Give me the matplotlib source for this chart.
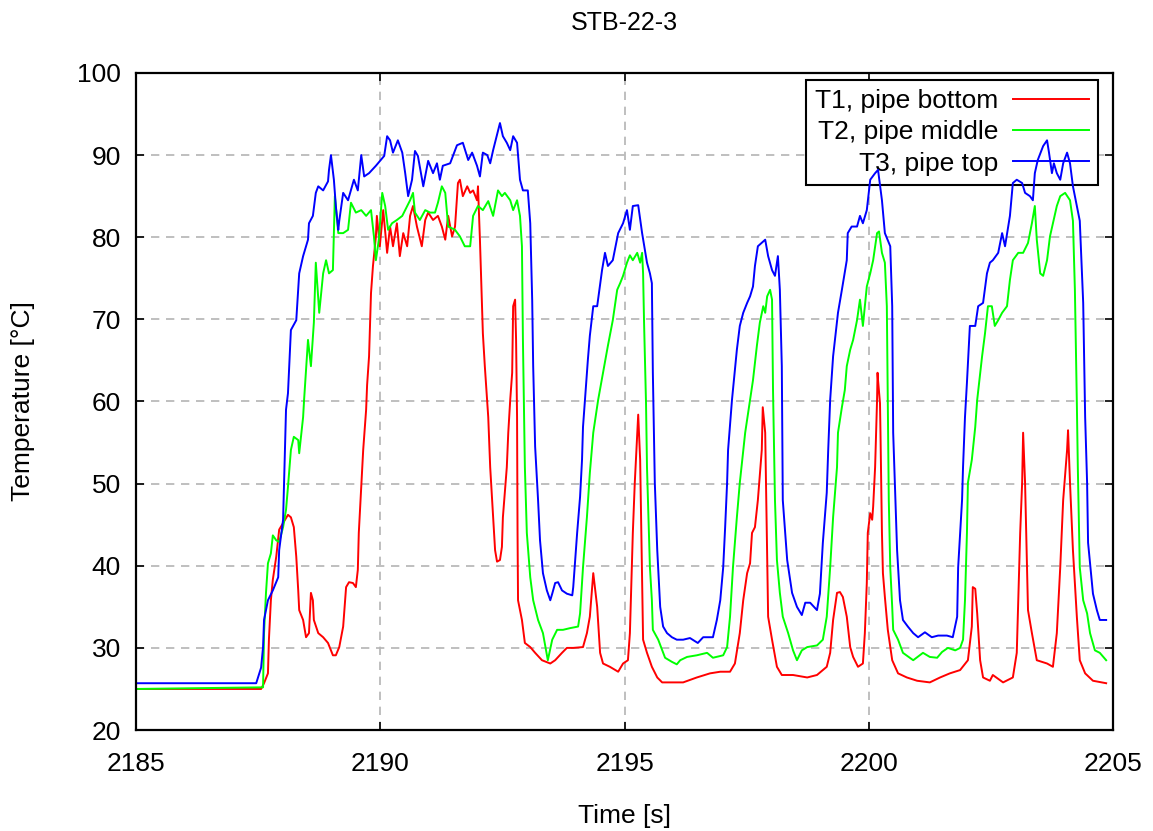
import matplotlib
matplotlib.use("Agg")
import matplotlib.pyplot as plt

plt.rcParams['font.family'] = ['Liberation Sans', 'DejaVu Sans']

title = "STB-22-3"
xlabel = "Time [s]"
ylabel = "Temperature [°C]"
labels = ["T1, pipe bottom", "T2, pipe middle", "T3, pipe top"]
xticks = [2185, 2190, 2195, 2200, 2205]
yticks = [20, 30, 40, 50, 60, 70, 80, 90, 100]

# T3, pipe top
t3_time = [2185.00, 2187.46, 2187.56, 2187.60, 2187.62, 2187.70, 2187.80, 2187.91, 2187.93, 2188.01,
           2188.03, 2188.07, 2188.11, 2188.17, 2188.28, 2188.32, 2188.34, 2188.42, 2188.52, 2188.54,
           2188.62, 2188.68, 2188.73, 2188.83, 2188.93, 2188.95, 2188.99, 2189.05, 2189.09, 2189.14,
           2189.16, 2189.24, 2189.34, 2189.46, 2189.54, 2189.61, 2189.67, 2189.77, 2189.91, 2190.08,
           2190.14, 2190.20, 2190.26, 2190.36, 2190.45, 2190.51, 2190.57, 2190.65, 2190.71, 2190.77,
           2190.88, 2190.98, 2191.08, 2191.16, 2191.22, 2191.28, 2191.43, 2191.57, 2191.69, 2191.80,
           2191.88, 2191.98, 2192.04, 2192.10, 2192.19, 2192.25, 2192.31, 2192.45, 2192.51, 2192.59,
           2192.66, 2192.72, 2192.80, 2192.86, 2192.92, 2193.02, 2193.07, 2193.11, 2193.13, 2193.17,
           2193.23, 2193.27, 2193.33, 2193.41, 2193.48, 2193.52, 2193.58, 2193.64, 2193.72, 2193.82,
           2193.93, 2193.95, 2194.03, 2194.09, 2194.13, 2194.15, 2194.19, 2194.25, 2194.29, 2194.36,
           2194.44, 2194.54, 2194.60, 2194.66, 2194.76, 2194.87, 2194.97, 2195.05, 2195.11, 2195.17,
           2195.28, 2195.36, 2195.46, 2195.52, 2195.56, 2195.58, 2195.62, 2195.67, 2195.73, 2195.79,
           2195.87, 2195.97, 2196.07, 2196.20, 2196.34, 2196.50, 2196.61, 2196.81, 2196.89, 2196.96,
           2197.02, 2197.06, 2197.10, 2197.12, 2197.20, 2197.30, 2197.36, 2197.43, 2197.51, 2197.57,
           2197.63, 2197.67, 2197.73, 2197.88, 2197.94, 2198.02, 2198.08, 2198.14, 2198.18, 2198.22,
           2198.24, 2198.33, 2198.43, 2198.53, 2198.63, 2198.70, 2198.80, 2198.94, 2199.00, 2199.06,
           2199.14, 2199.17, 2199.21, 2199.27, 2199.37, 2199.45, 2199.55, 2199.57, 2199.65, 2199.76,
           2199.82, 2199.88, 2199.96, 2200.03, 2200.13, 2200.19, 2200.27, 2200.33, 2200.44, 2200.48,
           2200.50, 2200.58, 2200.64, 2200.70, 2200.80, 2200.91, 2201.01, 2201.15, 2201.29, 2201.42,
           2201.60, 2201.72, 2201.81, 2201.83, 2201.91, 2201.93, 2201.97, 2202.01, 2202.07, 2202.18,
           2202.24, 2202.34, 2202.42, 2202.48, 2202.54, 2202.65, 2202.73, 2202.79, 2202.89, 2202.95,
           2203.03, 2203.14, 2203.20, 2203.30, 2203.36, 2203.40, 2203.46, 2203.57, 2203.65, 2203.69,
           2203.75, 2203.79, 2203.85, 2203.92, 2203.98, 2204.06, 2204.12, 2204.18, 2204.26, 2204.32,
           2204.39, 2204.43, 2204.47, 2204.49, 2204.59, 2204.67, 2204.73, 2204.86]
t3_temp = [25.7, 25.7, 27.6, 30.1, 33.4, 35.8, 37.0, 38.6, 41.9, 45.6,
           50.1, 59.0, 61.0, 68.7, 69.9, 73.6, 75.6, 77.7, 79.7, 81.7,
           82.6, 85.4, 86.2, 85.7, 86.8, 88.2, 90.0, 87.0, 83.8, 80.9,
           82.0, 85.4, 84.5, 87.0, 85.7, 90.0, 87.4, 87.8, 88.7, 89.9,
           92.3, 91.8, 90.3, 91.8, 90.3, 87.8, 85.0, 87.0, 90.5, 89.9,
           86.2, 89.3, 87.8, 89.0, 87.0, 88.7, 89.0, 91.2, 91.5, 89.4,
           90.3, 88.7, 87.4, 90.3, 90.0, 89.0, 90.6, 93.9, 92.3, 91.5,
           90.6, 92.3, 91.5, 87.0, 85.7, 85.7, 81.7, 72.3, 64.3, 54.5,
           48.0, 43.1, 39.1, 37.0, 35.8, 36.6, 37.9, 38.0, 37.0, 36.6,
           36.4, 37.4, 44.0, 48.4, 52.9, 56.9, 60.2, 65.1, 68.0, 71.6,
           71.6, 76.0, 78.1, 76.5, 77.2, 80.5, 81.7, 83.3, 80.9, 83.8,
           83.9, 80.5, 76.9, 75.6, 74.4, 63.5, 50.1, 41.9, 35.0, 32.6,
           31.8, 31.3, 31.0, 31.0, 31.2, 30.6, 31.3, 31.3, 33.4, 35.8,
           39.8, 44.7, 50.1, 54.1, 60.2, 66.3, 69.2, 70.8, 72.0, 72.8,
           74.0, 76.5, 78.9, 79.7, 77.7, 76.0, 75.3, 77.7, 73.6, 64.3,
           48.0, 40.7, 36.7, 35.0, 34.0, 35.5, 35.5, 34.6, 36.6, 42.8,
           48.9, 54.1, 60.2, 65.5, 70.8, 73.6, 77.2, 80.5, 81.3, 81.3,
           82.6, 81.7, 83.3, 87.0, 87.8, 88.2, 84.5, 80.5, 78.9, 71.6,
           56.2, 41.9, 35.8, 33.4, 32.6, 31.8, 31.3, 31.9, 31.3, 31.5,
           31.5, 31.3, 33.8, 39.8, 48.0, 52.0, 58.1, 62.3, 69.2, 69.2,
           71.6, 72.0, 75.6, 76.9, 77.2, 78.1, 80.5, 78.9, 82.6, 86.6,
           87.0, 86.6, 85.4, 85.0, 84.5, 87.8, 89.4, 91.1, 91.8, 90.3,
           87.8, 89.0, 87.8, 87.0, 89.0, 90.3, 89.0, 86.2, 83.8, 82.0,
           72.0, 58.1, 50.1, 42.8, 36.6, 34.6, 33.4, 33.4]

# T2, pipe middle
t2_time = [2185.00, 2187.60, 2187.62, 2187.66, 2187.70, 2187.76, 2187.80, 2187.87, 2187.93, 2188.01,
           2188.07, 2188.11, 2188.17, 2188.23, 2188.32, 2188.34, 2188.42, 2188.44, 2188.52, 2188.58,
           2188.64, 2188.68, 2188.75, 2188.83, 2188.89, 2188.95, 2189.03, 2189.07, 2189.14, 2189.24,
           2189.34, 2189.40, 2189.50, 2189.61, 2189.71, 2189.81, 2189.87, 2189.91, 2189.97, 2190.04,
           2190.10, 2190.16, 2190.24, 2190.34, 2190.45, 2190.55, 2190.61, 2190.67, 2190.71, 2190.81,
           2190.92, 2191.02, 2191.12, 2191.18, 2191.26, 2191.33, 2191.39, 2191.53, 2191.63, 2191.73,
           2191.84, 2191.90, 2192.00, 2192.10, 2192.21, 2192.31, 2192.41, 2192.49, 2192.55, 2192.66,
           2192.72, 2192.80, 2192.86, 2192.90, 2192.92, 2192.96, 2193.00, 2193.07, 2193.13, 2193.23,
           2193.33, 2193.43, 2193.52, 2193.62, 2193.74, 2193.88, 2194.05, 2194.09, 2194.15, 2194.23,
           2194.29, 2194.36, 2194.46, 2194.56, 2194.66, 2194.76, 2194.85, 2194.91, 2194.97, 2195.05,
           2195.11, 2195.17, 2195.26, 2195.32, 2195.36, 2195.38, 2195.40, 2195.44, 2195.46, 2195.52,
           2195.56, 2195.58, 2195.69, 2195.83, 2195.97, 2196.07, 2196.14, 2196.28, 2196.48, 2196.69,
           2196.81, 2197.02, 2197.10, 2197.16, 2197.22, 2197.30, 2197.36, 2197.47, 2197.57, 2197.63,
           2197.71, 2197.77, 2197.84, 2197.88, 2197.92, 2197.98, 2198.02, 2198.04, 2198.08, 2198.12,
           2198.18, 2198.24, 2198.35, 2198.45, 2198.53, 2198.63, 2198.74, 2198.94, 2199.06, 2199.14,
           2199.21, 2199.27, 2199.35, 2199.37, 2199.45, 2199.51, 2199.55, 2199.62, 2199.68, 2199.76,
           2199.82, 2199.88, 2199.96, 2200.03, 2200.09, 2200.17, 2200.21, 2200.27, 2200.33, 2200.37,
           2200.39, 2200.41, 2200.44, 2200.48, 2200.50, 2200.60, 2200.70, 2200.91, 2201.11, 2201.25,
           2201.40, 2201.50, 2201.62, 2201.77, 2201.87, 2201.93, 2201.97, 2202.01, 2202.03, 2202.11,
           2202.18, 2202.22, 2202.32, 2202.38, 2202.44, 2202.52, 2202.58, 2202.65, 2202.73, 2202.83,
           2202.89, 2202.95, 2203.06, 2203.16, 2203.26, 2203.34, 2203.40, 2203.44, 2203.51, 2203.57,
           2203.65, 2203.71, 2203.77, 2203.85, 2203.92, 2204.02, 2204.12, 2204.18, 2204.22, 2204.26,
           2204.28, 2204.32, 2204.39, 2204.47, 2204.53, 2204.63, 2204.73, 2204.86]
t2_temp = [25.0, 25.2, 31.8, 36.7, 40.3, 41.5, 43.7, 43.1, 42.9, 44.7,
           46.8, 49.6, 54.1, 55.7, 55.3, 53.7, 58.1, 60.2, 67.5, 64.3,
           69.6, 76.9, 70.8, 75.6, 77.2, 75.6, 76.0, 85.0, 80.5, 80.5,
           80.9, 84.2, 83.0, 83.3, 82.6, 83.3, 80.1, 77.2, 79.7, 85.4,
           83.8, 80.9, 81.7, 82.1, 82.6, 83.8, 84.5, 85.4, 83.0, 82.1,
           83.3, 83.0, 83.0, 84.2, 86.2, 85.4, 81.3, 80.9, 80.1, 78.9,
           78.9, 82.6, 83.8, 83.3, 84.4, 82.6, 85.7, 85.0, 85.4, 84.5,
           83.3, 84.5, 82.6, 78.9, 67.5, 52.0, 44.0, 38.6, 35.8, 33.4,
           31.8, 28.5, 31.0, 32.2, 32.2, 32.4, 32.6, 34.2, 39.8, 45.9,
           51.3, 56.2, 60.2, 63.5, 66.8, 69.9, 73.6, 74.4, 75.3, 76.9,
           77.8, 77.2, 78.1, 76.9, 78.1, 75.6, 69.6, 59.8, 52.0, 39.8,
           35.8, 32.2, 31.0, 28.8, 28.3, 28.0, 28.5, 28.9, 29.1, 29.4,
           28.8, 29.1, 30.1, 33.8, 39.8, 45.9, 50.1, 56.2, 60.2, 62.6,
           66.8, 69.6, 71.6, 70.8, 72.8, 73.6, 72.4, 61.4, 48.0, 40.7,
           36.7, 33.8, 31.8, 29.7, 28.5, 29.7, 30.1, 30.3, 31.0, 33.8,
           39.8, 45.9, 52.0, 56.2, 59.3, 61.4, 64.3, 66.3, 67.5, 69.9,
           72.4, 69.2, 74.0, 75.6, 77.2, 80.5, 80.7, 78.1, 76.9, 71.6,
           59.8, 48.0, 39.8, 35.0, 32.2, 31.0, 29.4, 28.5, 29.4, 28.9,
           28.8, 29.5, 30.0, 29.7, 30.0, 31.0, 35.8, 44.0, 50.1, 52.9,
           56.9, 60.2, 65.5, 68.3, 71.6, 71.6, 69.2, 69.9, 70.8, 71.6,
           74.8, 77.2, 78.1, 78.1, 79.3, 81.7, 83.8, 79.7, 75.6, 75.3,
           77.2, 80.1, 81.7, 83.8, 85.0, 85.4, 84.5, 82.0, 73.6, 59.8,
           52.0, 39.8, 35.8, 34.2, 31.8, 29.7, 29.4, 28.5]

# T1, pipe bottom
t1_time = [2185.00, 2187.56, 2187.62, 2187.70, 2187.72, 2187.76, 2187.80, 2187.87, 2187.93, 2188.01,
           2188.11, 2188.17, 2188.23, 2188.28, 2188.32, 2188.34, 2188.42, 2188.48, 2188.54, 2188.58,
           2188.62, 2188.64, 2188.73, 2188.83, 2188.93, 2189.03, 2189.09, 2189.16, 2189.24, 2189.30,
           2189.36, 2189.44, 2189.50, 2189.54, 2189.56, 2189.65, 2189.71, 2189.73, 2189.77, 2189.81,
           2189.85, 2189.91, 2189.93, 2189.99, 2190.06, 2190.14, 2190.20, 2190.26, 2190.34, 2190.40,
           2190.47, 2190.55, 2190.61, 2190.67, 2190.75, 2190.85, 2190.92, 2190.98, 2191.08, 2191.18,
           2191.26, 2191.33, 2191.39, 2191.47, 2191.53, 2191.59, 2191.63, 2191.69, 2191.78, 2191.84,
           2191.90, 2191.98, 2192.00, 2192.04, 2192.10, 2192.14, 2192.21, 2192.25, 2192.31, 2192.35,
           2192.39, 2192.45, 2192.49, 2192.51, 2192.59, 2192.62, 2192.66, 2192.70, 2192.72, 2192.76,
           2192.78, 2192.80, 2192.81, 2192.82, 2192.90, 2192.96, 2193.07, 2193.17, 2193.31, 2193.48,
           2193.58, 2193.72, 2193.82, 2193.95, 2194.15, 2194.23, 2194.29, 2194.36, 2194.44, 2194.50,
           2194.56, 2194.70, 2194.87, 2194.97, 2195.07, 2195.11, 2195.15, 2195.17, 2195.21, 2195.26,
           2195.28, 2195.32, 2195.36, 2195.38, 2195.46, 2195.56, 2195.67, 2195.77, 2195.93, 2196.20,
           2196.48, 2196.75, 2196.96, 2197.16, 2197.26, 2197.36, 2197.43, 2197.51, 2197.57, 2197.61,
           2197.67, 2197.73, 2197.81, 2197.83, 2197.88, 2197.92, 2197.94, 2198.02, 2198.12, 2198.22,
           2198.45, 2198.74, 2198.94, 2199.14, 2199.21, 2199.27, 2199.35, 2199.41, 2199.47, 2199.55,
           2199.62, 2199.68, 2199.78, 2199.88, 2199.92, 2199.96, 2199.98, 2200.03, 2200.07, 2200.09,
           2200.13, 2200.17, 2200.18, 2200.19, 2200.23, 2200.24, 2200.27, 2200.29, 2200.33, 2200.39,
           2200.48, 2200.60, 2200.78, 2200.99, 2201.25, 2201.46, 2201.66, 2201.87, 2202.03, 2202.11,
           2202.13, 2202.18, 2202.22, 2202.28, 2202.34, 2202.48, 2202.54, 2202.75, 2202.95, 2203.03,
           2203.06, 2203.10, 2203.14, 2203.16, 2203.20, 2203.24, 2203.26, 2203.34, 2203.44, 2203.65,
           2203.77, 2203.85, 2203.92, 2203.98, 2204.06, 2204.08, 2204.12, 2204.18, 2204.26, 2204.32,
           2204.43, 2204.59, 2204.86]
t1_temp = [25.0, 25.0, 25.7, 26.9, 31.0, 35.8, 38.3, 41.1, 44.4, 45.2,
           46.2, 45.9, 44.7, 41.1, 37.0, 34.6, 33.4, 31.3, 31.8, 36.7,
           35.8, 33.4, 31.8, 31.3, 30.6, 29.1, 29.1, 30.1, 32.6, 37.4,
           38.0, 37.9, 37.4, 39.5, 44.0, 54.1, 59.0, 62.0, 65.5, 73.2,
           76.5, 80.1, 82.6, 78.9, 83.3, 78.1, 81.3, 78.9, 81.7, 77.7,
           80.5, 78.9, 82.6, 83.8, 81.3, 78.9, 82.1, 83.0, 82.1, 82.6,
           81.3, 79.7, 82.6, 80.1, 81.3, 86.6, 87.0, 85.0, 86.2, 85.4,
           85.7, 84.5, 86.2, 79.7, 68.3, 64.3, 58.1, 52.0, 45.9, 41.9,
           40.5, 40.7, 42.3, 45.9, 52.0, 56.2, 60.2, 63.5, 71.6, 72.4,
           67.5, 58.1, 44.0, 35.8, 33.4, 30.6, 30.1, 29.4, 28.5, 28.1,
           28.5, 29.4, 30.0, 30.0, 30.1, 31.8, 33.8, 39.1, 35.0, 29.4,
           28.1, 27.7, 27.1, 28.1, 28.5, 31.8, 39.8, 44.0, 50.1, 56.2,
           58.4, 52.9, 37.9, 31.0, 29.4, 27.7, 26.4, 25.8, 25.8, 25.8,
           26.4, 26.9, 27.1, 27.1, 28.1, 31.8, 35.8, 39.1, 40.3, 44.0,
           44.7, 48.0, 54.1, 59.3, 56.2, 40.7, 33.8, 31.0, 27.7, 26.7,
           26.7, 26.4, 26.7, 27.7, 29.4, 33.4, 36.7, 36.8, 36.2, 33.8,
           30.1, 28.9, 27.7, 28.1, 31.8, 37.9, 44.0, 46.4, 45.6, 47.2,
           52.0, 60.2, 63.5, 62.6, 59.8, 56.2, 44.0, 39.1, 36.2, 32.2,
           28.5, 26.9, 26.4, 26.0, 25.8, 26.4, 26.9, 27.3, 28.5, 32.6,
           37.4, 37.2, 34.2, 28.5, 26.4, 26.0, 26.7, 25.8, 26.4, 29.4,
           35.8, 44.0, 50.1, 56.2, 50.1, 39.8, 34.6, 31.8, 28.5, 28.1,
           27.7, 31.8, 39.8, 48.0, 54.1, 56.5, 50.1, 41.9, 33.8, 28.5,
           26.9, 26.0, 25.7]

fig = plt.figure(figsize=(11.53, 8.31), dpi=100)
ax = fig.add_axes([0.118, 0.1215, 0.8473, 0.7907])

l1, = ax.plot(t1_time, t1_temp, color='#ff0000', lw=1.4, zorder=3)
l2, = ax.plot(t2_time, t2_temp, color='#00ff00', lw=1.4, zorder=3)
l3, = ax.plot(t3_time, t3_temp, color='#0000ff', lw=1.4, zorder=3)

ax.set_xlim(2185, 2205)
ax.set_ylim(20, 100)
ax.set_xticks(xticks)
ax.set_yticks(yticks)
ax.set_xticklabels([str(v) for v in xticks])
ax.set_yticklabels([str(v) for v in yticks])
ax.tick_params(direction='in', length=6, width=1.2, top=True, right=True,
               labelsize=19, colors='black')
ax.tick_params(axis='x', pad=16)
ax.tick_params(axis='y', pad=11)
ax.grid(True, color='#b4b4b4', linestyle=(0, (5, 4)), lw=1.2, zorder=0)
ax.set_axisbelow(True)
for s in ax.spines.values():
    s.set_linewidth(1.6)
    s.set_zorder(4)

ax.set_title(title, fontsize=18, pad=31)
ax.set_xlabel(xlabel, fontsize=19, labelpad=20)
ax.set_ylabel(ylabel, fontsize=19, labelpad=30)

leg = ax.legend([l1, l2, l3], labels, loc='upper right', bbox_to_anchor=(0.985, 0.99),
                markerfirst=False, fancybox=False, framealpha=1, edgecolor='black',
                fontsize=19, handlelength=2.9, handletextpad=0.55, labelspacing=0.28,
                borderpad=0.35, borderaxespad=0)
leg.get_frame().set_linewidth(1.5)
leg.set_zorder(2)

fig.savefig("out.png", dpi=100)
